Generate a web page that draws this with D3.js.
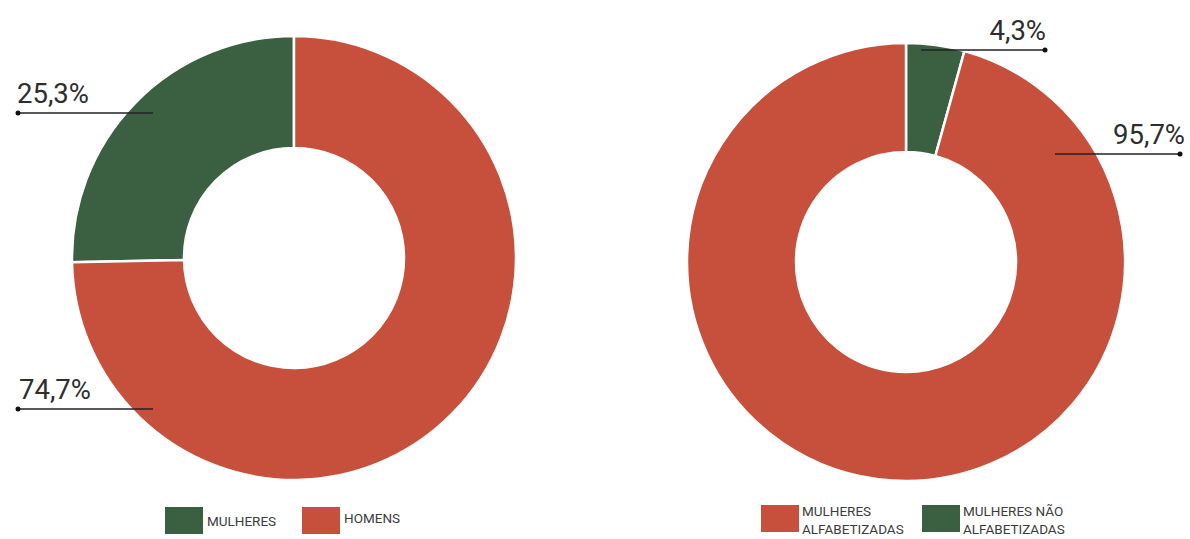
<!DOCTYPE html>
<html>
<head>
<meta charset="utf-8">
<script src="https://cdn.jsdelivr.net/npm/d3@7"></script>
<style>
  body { margin: 0; background: #fff; font-family: Roboto, "Noto Sans", sans-serif; }
  .pct { font-size: 27.5px; font-weight: 400; fill: #2e2e2e; }
  .leg { font-size: 13.5px; fill: #3c3c3c; }
</style>
</head>
<body>
<svg id="chart" width="1190" height="539"></svg>
<script>
// left chart: gender split
const genderLabels = ['MULHERES', 'HOMENS'];
const genderValues = [25.3, 74.7];
// right chart: literacy among women
const literacyLabels = ['MULHERES NÃO ALFABETIZADAS', 'MULHERES ALFABETIZADAS'];
const literacyValues = [4.3, 95.7];
const literacyLegend = [['MULHERES', 'ALFABETIZADAS'], ['MULHERES NÃO', 'ALFABETIZADAS']];

const GREEN = '#3b5f41';
const RED = '#c6503b';

const svg = d3.select('#chart');
const fmt = v => d3.format('.1f')(v).replace('.', ',') + '%';

function donut(cx, cy, rOuter, rInner, values, colors, startAngle) {
  const pie = d3.pie().sort(null).startAngle(startAngle).endAngle(startAngle + 2 * Math.PI);
  const arc = d3.arc().innerRadius(rInner).outerRadius(rOuter);
  const g = svg.append('g').attr('transform', `translate(${cx},${cy})`);
  g.selectAll('path')
    .data(pie(values))
    .join('path')
    .attr('d', arc)
    .attr('fill', (d, i) => colors[i])
    .attr('stroke', '#fff')
    .attr('stroke-width', 2.5);
  return g;
}

function callout(x1, x2, y, dotX, text, textX, anchor) {
  svg.append('line')
    .attr('x1', x1).attr('x2', x2).attr('y1', y).attr('y2', y)
    .attr('stroke', '#222').attr('stroke-width', 1.3);
  svg.append('circle').attr('cx', dotX).attr('cy', y).attr('r', 2.5).attr('fill', '#111');
  svg.append('text').attr('class', 'pct')
    .attr('x', textX).attr('y', y - 10)
    .attr('text-anchor', anchor)
    .text(text);
}

// left donut: green slice ends at 12 o'clock
donut(294, 258, 222, 110, genderValues, [GREEN, RED], -2 * Math.PI * genderValues[0] / 100);
callout(18, 153, 113, 18, fmt(genderValues[0]), 17, 'start');
callout(18, 153, 409, 18, fmt(genderValues[1]), 19, 'start');

// right donut: green slice starts at 12 o'clock
donut(906, 262, 219, 110, literacyValues, [GREEN, RED], 0);
callout(921, 1045, 50, 1045, fmt(literacyValues[0]), 1046, 'end');
callout(1055, 1180, 154, 1180, fmt(literacyValues[1]), 1185, 'end');

// legends
function legendItem(x, y, color, lines, dy) {
  svg.append('rect').attr('x', x).attr('y', y).attr('width', 38).attr('height', 27).attr('fill', color);
  const t = svg.append('text').attr('class', 'leg').attr('x', x + 42);
  if (lines.length === 1) {
    t.attr('y', y + dy).text(lines[0]);
  } else {
    lines.forEach((l, i) => {
      t.append('tspan').attr('x', x + 41).attr('y', y + 11 + i * 18).text(l);
    });
  }
}
legendItem(165, 507, GREEN, [genderLabels[0]], 19);
legendItem(302, 507, RED, [genderLabels[1]], 16);
legendItem(761, 505, RED, literacyLegend[0]);
legendItem(922, 505, GREEN, literacyLegend[1]);
</script>
</body>
</html>
